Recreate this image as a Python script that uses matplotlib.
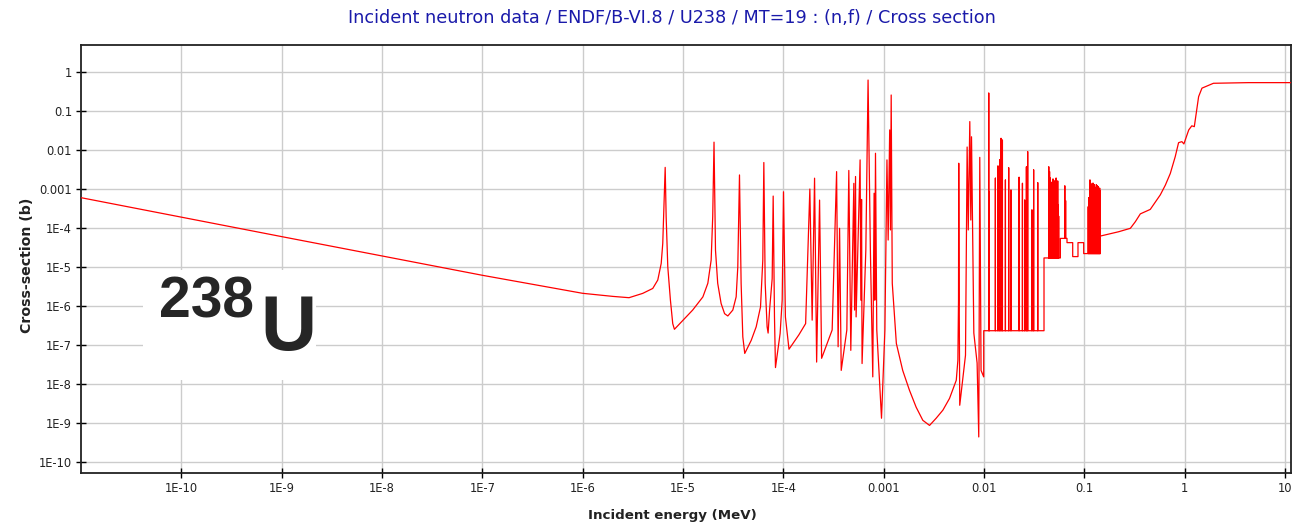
import matplotlib
matplotlib.use('Agg')
import matplotlib.pyplot as plt
from matplotlib.ticker import NullLocator
from matplotlib.patches import Rectangle

# ---- data ----
# thermal + resolved resonance region (MeV, barns)
energy_rr = [1.0e-11, 1.0e-9, 1.0e-7, 1.0e-6, 2.0e-6, 2.9e-6, 3.97e-6, 5.0e-6, 5.61e-6, 6.07e-6,
             6.29e-6, 6.5e-6, 6.65e-6, 6.8e-6, 7.06e-6, 7.5e-6, 7.91e-6, 8.22e-6, 1.25e-5, 1.58e-5,
             1.77e-5, 1.91e-5, 1.98e-5, 2.04e-5, 2.11e-5, 2.22e-5, 2.4e-5, 2.6e-5, 2.8e-5, 3.14e-5,
             3.39e-5, 3.52e-5, 3.6e-5, 3.66e-5, 3.8e-5, 3.95e-5, 4.13e-5, 4.79e-5, 5.37e-5, 5.93e-5,
             6.25e-5, 6.4e-5, 6.6e-5, 6.9e-5, 7.06e-5, 7.3e-5, 7.75e-5, 7.93e-5, 8.17e-5, 8.36e-5,
             9.3e-5, 9.75e-5, 1.005e-4, 1.05e-4, 1.14e-4, 1.43e-4, 1.67e-4, 1.84e-4, 1.94e-4, 2.05e-4,
             2.15e-4, 2.30e-4, 2.41e-4, 3.07e-4, 3.4e-4, 3.52e-4, 3.64e-4, 3.78e-4, 4.3e-4, 4.5e-4,
             4.71e-4, 5.05e-4, 5.14e-4, 5.25e-4, 5.32e-4, 5.83e-4, 5.93e-4, 6.03e-4, 6.1e-4, 6.65e-4,
             7.0e-4, 7.38e-4, 7.8e-4, 8.04e-4, 8.17e-4, 8.3e-4, 8.55e-4, 9.53e-4, 1.03e-3, 1.08e-3,
             1.11e-3, 1.15e-3, 1.17e-3, 1.19e-3, 1.22e-3, 1.34e-3, 1.55e-3, 1.81e-3, 2.11e-3, 2.46e-3,
             2.87e-3, 3.34e-3, 3.9e-3, 4.54e-3, 5.3e-3, 5.5e-3, 5.58e-3, 5.61e-3, 5.67e-3, 5.74e-3,
             6.55e-3, 6.8e-3, 6.98e-3, 7.23e-3, 7.4e-3, 7.52e-3, 7.93e-3, 8.55e-3, 8.88e-3, 9.09e-3,
             9.36e-3, 9.95e-3]
xs_rr = [6.0e-4, 6.0e-5, 6.1e-6, 2.1e-6, 1.75e-6, 1.62e-6, 2.09e-6, 2.8e-6, 4.6e-6, 1.23e-5,
         4.0e-5, 5.2e-4, 3.6e-3, 1.95e-4, 1.0e-5, 1.4e-6, 3.5e-7, 2.5e-7, 7.8e-7, 1.7e-6,
         3.8e-6, 1.5e-5, 1.95e-4, 1.6e-2, 2.7e-5, 3.8e-6, 1.15e-6, 6.3e-7, 5.5e-7, 7.8e-7,
         1.7e-6, 1.0e-5, 1.95e-4, 2.3e-3, 3.8e-6, 1.6e-7, 6.0e-8, 1.3e-7, 2.9e-7, 9.4e-7,
         1.5e-5, 4.8e-3, 3.8e-6, 2.9e-7, 2.0e-7, 7.8e-7, 5.0e-6, 6.6e-4, 5.2e-7, 2.6e-8,
         1.95e-7, 1.4e-6, 8.5e-4, 5.2e-7, 7.7e-8, 1.8e-7, 3.5e-7, 1.0e-3, 4.3e-7, 1.9e-3,
         3.6e-8, 5.2e-4, 4.5e-8, 2.4e-7, 2.8e-3, 8.9e-8, 9.8e-5, 2.2e-8, 2.4e-7, 3.0e-3,
         7.2e-8, 1.4e-3, 7.8e-7, 2.1e-3, 5.2e-7, 5.6e-3, 1.4e-6, 5.4e-4, 3.3e-8, 2.7e-5,
         0.63, 2.7e-5, 1.5e-8, 7.8e-4, 1.4e-6, 8.3e-3, 2.4e-7, 1.3e-9, 2.4e-7, 5.6e-3,
         4.9e-5, 0.033, 8.9e-5, 0.26, 3.8e-6, 1.08e-7, 2.2e-8, 6.8e-9, 2.5e-9, 1.15e-9,
         8.5e-10, 1.3e-9, 2.1e-9, 4.2e-9, 1.23e-8, 4.0e-8, 1.4e-6, 4.6e-3, 1.4e-6, 2.8e-9,
         5.4e-8, 0.012, 8.9e-5, 0.054, 1.6e-4, 0.022, 2.0e-7, 3.4e-8, 4.3e-10, 6.5e-3,
         2.2e-8, 1.5e-8]

# unresolved region: step levels between edges
ur_edges = [0.00995, 0.0397, 0.0578, 0.0673, 0.0767, 0.0866, 0.0987, 0.1446]
ur_levels = [2.3e-7, 1.7e-5, 5.4e-5, 4.2e-5, 1.84e-5, 4.2e-5, 2.2e-5]

# narrow spikes in the unresolved region (energy, peak)
spike_energy = [0.01117, 0.01133, 0.0130, 0.0138, 0.01436, 0.0148, 0.01528, 0.01637, 0.01766, 0.0186,
                0.0224, 0.0242, 0.0255, 0.0265, 0.0273, 0.0301, 0.0313, 0.0344,
                0.0443, 0.0447, 0.0451, 0.0455, 0.0459, 0.0464, 0.0468, 0.0473, 0.0478, 0.0483,
                0.0488, 0.0494, 0.0500, 0.0506, 0.0512, 0.0518, 0.0524, 0.0530, 0.0537, 0.0544,
                0.0550, 0.0556, 0.0640, 0.0652,
                0.1095, 0.1110, 0.1125, 0.1140, 0.1155, 0.1170, 0.1185, 0.1200, 0.1215, 0.1230,
                0.1245, 0.1260, 0.1275, 0.1290, 0.1305, 0.1320, 0.1335, 0.1350, 0.1365, 0.1380,
                0.1395, 0.1410, 0.1425, 0.1440]
spike_peak = [0.29, 8.5e-4, 1.9e-3, 3.9e-3, 5.6e-3, 0.020, 0.018, 1.7e-3, 3.5e-3, 9.4e-4,
              2.0e-3, 1.4e-3, 5.2e-4, 3.7e-3, 9.1e-3, 2.9e-4, 3.1e-3, 1.45e-3,
              3.7e-3, 1.5e-3, 2.8e-3, 8e-4, 1.9e-3, 5.2e-4, 1.2e-3, 7e-4, 1.5e-3, 9e-4,
              1.8e-3, 6e-4, 1.1e-3, 1.6e-3, 8e-4, 1.4e-3, 1.9e-3, 7e-4, 1.2e-3, 1.6e-3,
              4e-4, 2.0e-4, 1.2e-3, 5e-4,
              3.5e-4, 6e-4, 5e-4, 1.7e-3, 9e-4, 1.3e-3, 7e-4, 1.4e-3, 1.0e-3, 1.4e-3,
              8e-4, 1.3e-3, 1.1e-3, 6e-4, 1.1e-3, 1.3e-3, 9e-4, 1.2e-3, 7e-4, 1.15e-3,
              1.0e-3, 8e-4, 1.05e-3, 9e-4]

# fast region
energy_fast = [0.1446, 0.220, 0.288, 0.323, 0.362, 0.455, 0.573, 0.643, 0.720, 0.807,
               0.871, 0.94, 0.984, 1.10, 1.18, 1.25, 1.38, 1.49, 1.94, 4.34, 11.5]
xs_fast = [6.2e-5, 8.0e-5, 9.8e-5, 1.45e-4, 2.3e-4, 3.0e-4, 7.1e-4, 1.26e-3, 2.5e-3, 6.8e-3,
           0.0155, 0.0165, 0.0144, 0.033, 0.042, 0.040, 0.236, 0.39, 0.52, 0.54, 0.54]

xtick_vals = [1e-10, 1e-9, 1e-8, 1e-7, 1e-6, 1e-5, 1e-4, 1e-3, 1e-2, 1e-1, 1, 10]
xtick_labels = ['1E-10', '1E-9', '1E-8', '1E-7', '1E-6', '1E-5', '1E-4', '0.001', '0.01', '0.1', '1', '10']
ytick_vals = [1, 1e-1, 1e-2, 1e-3, 1e-4, 1e-5, 1e-6, 1e-7, 1e-8, 1e-9, 1e-10]
ytick_labels = ['1', '0.1', '0.01', '0.001', '1E-4', '1E-5', '1E-6', '1E-7', '1E-8', '1E-9', '1E-10']

# ---- build the path ----
px = list(energy_rr)
py = list(xs_rr)
spikes = sorted(zip(spike_energy, spike_peak))
for i, lvl in enumerate(ur_levels):
    lo, hi = ur_edges[i], ur_edges[i + 1]
    px.append(lo); py.append(lvl)
    for e, p in spikes:
        if lo <= e < hi:
            px += [e, e, e]
            py += [lvl, p, lvl]
    px.append(hi); py.append(lvl)
px += energy_fast
py += xs_fast

W, H = 1292, 527
fig = plt.figure(figsize=(W / 100, H / 100), dpi=100)
fig.patch.set_facecolor('white')
ax = fig.add_axes([81 / W, 1 - 473 / H, (1291 - 81) / W, (473 - 45) / H])

ax.set_xscale('log')
ax.set_yscale('log')
ax.set_xlim(1.0e-11, 11.5)
ax.set_ylim(5.1e-11, 5.0)

ax.grid(True, which='major', color='#cccccc', linewidth=1.0)
ax.set_axisbelow(True)

ax.plot(px, py, color='#ff0000', linewidth=0.9, zorder=3)

ax.set_xticks(xtick_vals)
ax.set_xticklabels(xtick_labels)
ax.set_yticks(ytick_vals)
ax.set_yticklabels(ytick_labels)
ax.xaxis.set_minor_locator(NullLocator())
ax.yaxis.set_minor_locator(NullLocator())
ax.tick_params(axis='both', which='major', direction='inout', length=7, width=1,
               colors='black', labelsize=8.3, pad=3)
for lab in ax.get_xticklabels() + ax.get_yticklabels():
    lab.set_color('#222222')
for sp in ax.spines.values():
    sp.set_color('#222222')
    sp.set_linewidth(1.3)

# white box behind isotope label
rect = Rectangle((143 / W, 1 - 380 / H), (316 - 143) / W, (380 - 270) / H,
                 transform=fig.transFigure, facecolor='white', edgecolor='none', zorder=2)
ax.add_patch(rect)
rect.set_clip_on(False)

fig.text(159 / W, 1 - 318 / H, '238', fontsize=41, fontweight='bold', color='#262626',
         family='Liberation Sans', ha='left', va='baseline', zorder=5)
fig.text(260 / W, 1 - 350 / H, 'U', fontsize=56, fontweight='bold', color='#262626',
         family='Liberation Sans', ha='left', va='baseline', zorder=5)

fig.text(672 / W, 1 - 18 / H, 'Incident neutron data / ENDF/B-VI.8 / U238 / MT=19 : (n,f) / Cross section',
         ha='center', va='center', fontsize=12.7, color='#1a1aaa')
fig.text(672 / W, 1 - 516 / H, 'Incident energy (MeV)', ha='center', va='center',
         fontsize=9.6, fontweight='bold', color='#222222')
fig.text(27 / W, 1 - 265 / H, 'Cross-section (b)', ha='center', va='center', rotation=90,
         fontsize=10.2, fontweight='bold', color='#222222')

fig.savefig('out.png', dpi=100, facecolor='white')
